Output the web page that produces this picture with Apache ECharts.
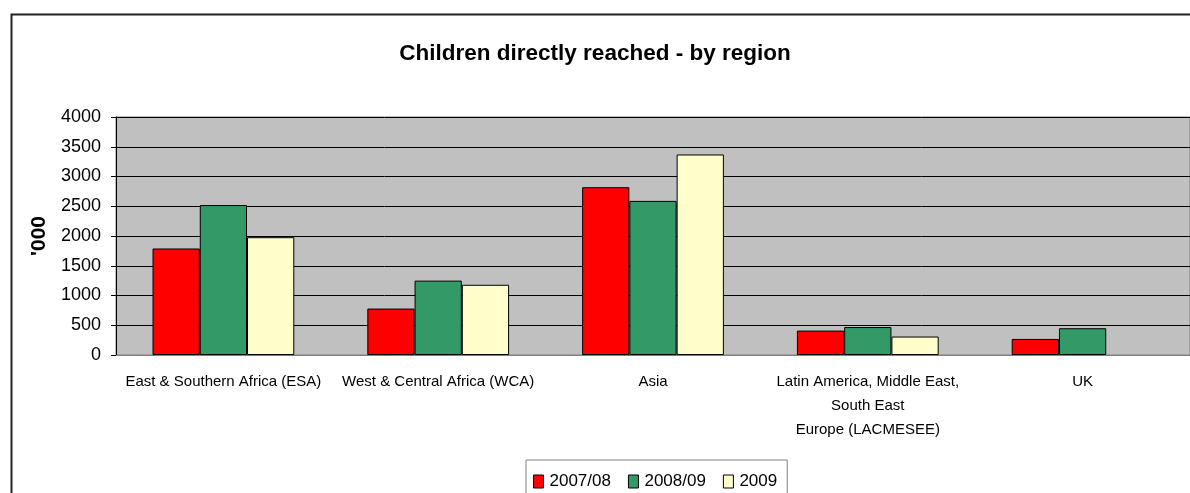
<!DOCTYPE html>
<html>
<head>
<meta charset="utf-8">
<title>Children directly reached - by region</title>
<script src="https://cdn.jsdelivr.net/npm/echarts@6/dist/echarts.min.js"></script>
<style>
  html, body { margin: 0; padding: 0; background: #fff; }
  #chart { width: 1190px; height: 493px; }
</style>
</head>
<body>
<div id="chart"></div>
<script>
// regions on the x axis
const regions = [
  'East & Southern Africa (ESA)',
  'West & Central Africa (WCA)',
  'Asia',
  'Latin America, Middle East,\nSouth East\nEurope (LACMESEE)',
  'UK'
]

// children reached ('000) per year
const y2007 = [1790, 780, 2820, 410, 270]
const y2008 = [2520, 1250, 2590, 470, 450]
const y2009 = [1980, 1180, 3370, 310, null]

const yTicks = { min: 0, max: 4000, interval: 500 }

const sans = "'Liberation Sans', Arial, sans-serif"

const chart = echarts.init(document.getElementById('chart'))

function barSeries (name, color, data) {
  return {
    name: name,
    type: 'bar',
    barGap: '0%',
    barCategoryGap: '34%',
    itemStyle: {
      color: color,
      borderColor: '#000',
      borderWidth: 1
    },
    data: data
  }
}

chart.setOption({
  animation: false,
  backgroundColor: '#fff',
  graphic: [{
    type: 'rect',
    silent: true,
    shape: { x: 11.5, y: 14.5, width: 1300, height: 600 },
    style: { fill: 'none', stroke: '#222', lineWidth: 2 }
  }],
  title: {
    text: 'Children directly reached - by region',
    left: 'center',
    top: 37,
    textStyle: {
      fontFamily: sans,
      fontSize: 22.5,
      fontWeight: 'bold',
      color: '#000'
    }
  },
  legend: {
    left: 526,
    top: 460,
    padding: [13, 10, 30, 7],
    borderColor: '#808080',
    borderWidth: 1,
    itemWidth: 10,
    itemHeight: 13,
    itemGap: 17,
    icon: 'rect',
    itemStyle: { borderColor: '#000', borderWidth: 1 },
    textStyle: { fontFamily: sans, fontSize: 17, color: '#000', padding: [0, 0, 0, 1] },
    data: ['2007/08', '2008/09', '2009']
  },
  grid: {
    left: 116,
    top: 117,
    width: 1080,
    height: 238,
    show: true,
    backgroundColor: '#c0c0c0',
    borderColor: '#808080',
    borderWidth: 1
  },
  xAxis: {
    type: 'category',
    data: regions,
    axisLine: { lineStyle: { color: '#808080', width: 1 } },
    axisTick: { length: 5, lineStyle: { color: '#808080' } },
    axisLabel: {
      interval: 0,
      margin: 15,
      fontFamily: sans,
      fontSize: 15,
      lineHeight: 24,
      color: '#000',
      align: 'center'
    }
  },
  yAxis: {
    type: 'value',
    min: yTicks.min,
    max: yTicks.max,
    interval: yTicks.interval,
    name: "'000",
    nameLocation: 'middle',
    nameGap: 64,
    nameRotate: 90,
    nameTextStyle: {
      fontFamily: sans,
      fontSize: 21,
      fontWeight: 'bold',
      color: '#000'
    },
    axisLine: { show: true, lineStyle: { color: '#000', width: 1 } },
    axisTick: { show: true, length: 5, lineStyle: { color: '#000' } },
    axisLabel: {
      margin: 15,
      fontFamily: sans,
      fontSize: 18,
      color: '#000',
      formatter: function (v) { return String(v) }
    },
    splitLine: { lineStyle: { color: '#000', width: 1 } }
  },
  series: [
    barSeries('2007/08', '#ff0000', y2007),
    barSeries('2008/09', '#339966', y2008),
    barSeries('2009', '#ffffcc', y2009)
  ]
})
</script>
</body>
</html>
